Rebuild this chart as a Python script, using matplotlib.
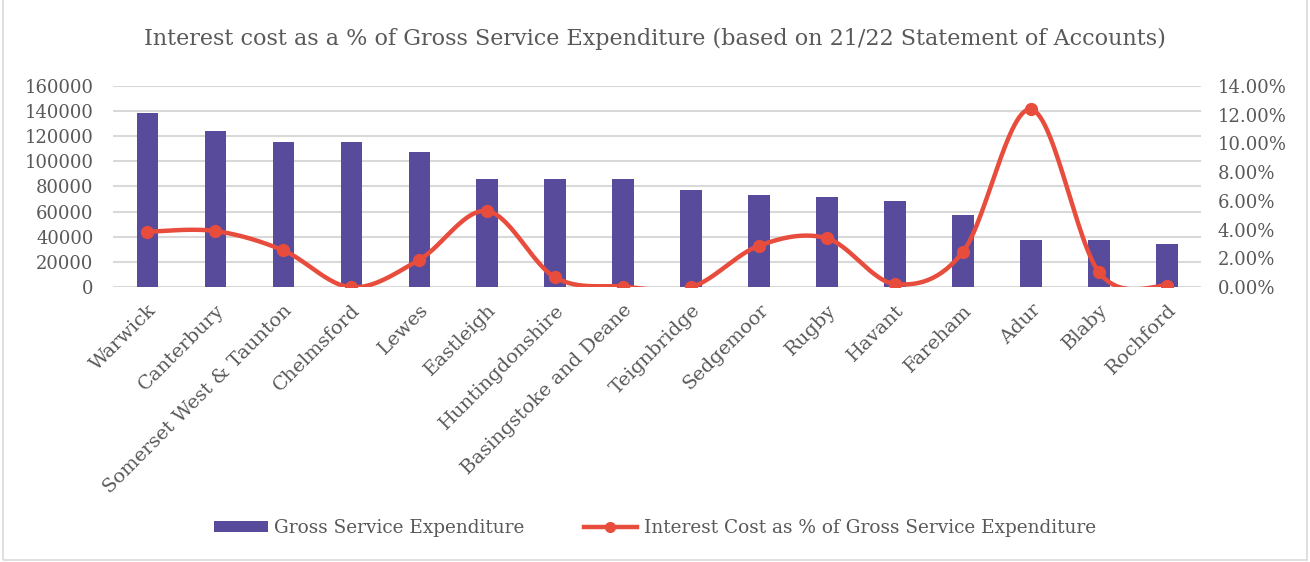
import numpy as np
import matplotlib.pyplot as plt
from matplotlib.patches import Rectangle
from matplotlib.ticker import FuncFormatter

councils = ["Warwick", "Canterbury", "Somerset West & Taunton", "Chelmsford",
            "Lewes", "Eastleigh", "Huntingdonshire", "Basingstoke and Deane",
            "Teignbridge", "Sedgemoor", "Rugby", "Havant", "Fareham", "Adur",
            "Blaby", "Rochford"]
gross_exp = [138600, 123800, 115600, 115100, 107600, 86000, 86000, 85700,
             77200, 73000, 71400, 68300, 57600, 37300, 37300, 34400]
interest_pct = [3.86, 3.91, 2.57, 0.0, 1.90, 5.30, 0.69, 0.05,
                0.0, 2.89, 3.40, 0.23, 2.47, 12.36, 1.04, 0.10]

bar_col = "#584B9B"
line_col = "#E84C3D"
grid_col = "#D9D9D9"
text_col = "#595959"

plt.rcParams["font.family"] = "DejaVu Serif"
plt.rcParams["text.color"] = text_col


def smooth(xs, ys, n=30):
    # Catmull-Rom style bezier through every point (like a "smoothed line")
    xs = np.asarray(xs, float)
    ys = np.asarray(ys, float)
    px = np.concatenate([[xs[0]], xs, [xs[-1]]])
    py = np.concatenate([[ys[0]], ys, [ys[-1]]])
    outx, outy = [], []
    t = np.linspace(0, 1, n)
    for i in range(1, len(px) - 2):
        p0 = np.array([px[i], py[i]])
        p3 = np.array([px[i + 1], py[i + 1]])
        p1 = p0 + (np.array([px[i + 1], py[i + 1]]) - np.array([px[i - 1], py[i - 1]])) / 6
        p2 = p3 - (np.array([px[i + 2], py[i + 2]]) - np.array([px[i], py[i]])) / 6
        b = ((1 - t) ** 3)[:, None] * p0 + (3 * (1 - t) ** 2 * t)[:, None] * p1 \
            + (3 * (1 - t) * t ** 2)[:, None] * p2 + (t ** 3)[:, None] * p3
        outx.extend(b[:, 0])
        outy.extend(b[:, 1])
    return np.array(outx), np.array(outy)


fig = plt.figure(figsize=(13.1, 5.62), dpi=100)
fig.patches.append(Rectangle((0.002, 0.004), 0.996, 1.2, transform=fig.transFigure,
                             fill=False, edgecolor=grid_col, lw=1.2))
ax = fig.add_axes([0.0863, 0.4888, 0.8305, 0.3587])
x = np.arange(len(councils))

ax.bar(x, gross_exp, width=0.31, color=bar_col, zorder=2,
       label="Gross Service Expenditure")
ax.set_ylim(0, 160000)
ax.set_xlim(-0.5, len(councils) - 0.5)
ax.set_yticks(np.arange(0, 160001, 20000))
ax.grid(axis="y", color=grid_col, lw=1.5, zorder=0)
ax.set_axisbelow(True)
for s in ax.spines.values():
    s.set_visible(False)
ax.tick_params(length=0, labelsize=13, colors=text_col)
ax.tick_params(axis="y", pad=14)
ax.tick_params(axis="x", pad=10)
ax.set_xticks(x)
ax.set_xticklabels(councils, rotation=45, ha="right", rotation_mode="anchor",
                   fontsize=14)

ax2 = ax.twinx()
ax2.set_ylim(0, 14)
ax2.set_yticks(np.arange(0, 14.01, 2))
ax2.yaxis.set_major_formatter(FuncFormatter(lambda v, p: f"{v:.2f}%"))
for s in ax2.spines.values():
    s.set_visible(False)
ax2.tick_params(length=0, labelsize=13, colors=text_col, pad=12)
sx, sy = smooth(x, interest_pct)
ax2.plot(sx, sy, color=line_col, lw=3.2, solid_capstyle="round", zorder=3)
ax2.plot(x, interest_pct, "o", color=line_col, ms=8.5, zorder=4)
ax2.plot([], [], color=line_col, lw=3.2, marker="o", ms=7,
         label="Interest Cost as % of Gross Service Expenditure")

h1, l1 = ax.get_legend_handles_labels()
h2, l2 = ax2.get_legend_handles_labels()
fig.legend(h1 + h2, l1 + l2, loc="center", bbox_to_anchor=(0.5, 0.06), ncol=2,
           frameon=False, fontsize=13.3, columnspacing=3.2, handlelength=2.9,
           handleheight=0.55, handletextpad=0.35)

fig.text(0.5, 0.93, "Interest cost as a % of Gross Service Expenditure (based on 21/22 Statement of Accounts)",
         ha="center", va="center", fontsize=16, color=text_col)

fig.savefig("out.png", dpi=100)
